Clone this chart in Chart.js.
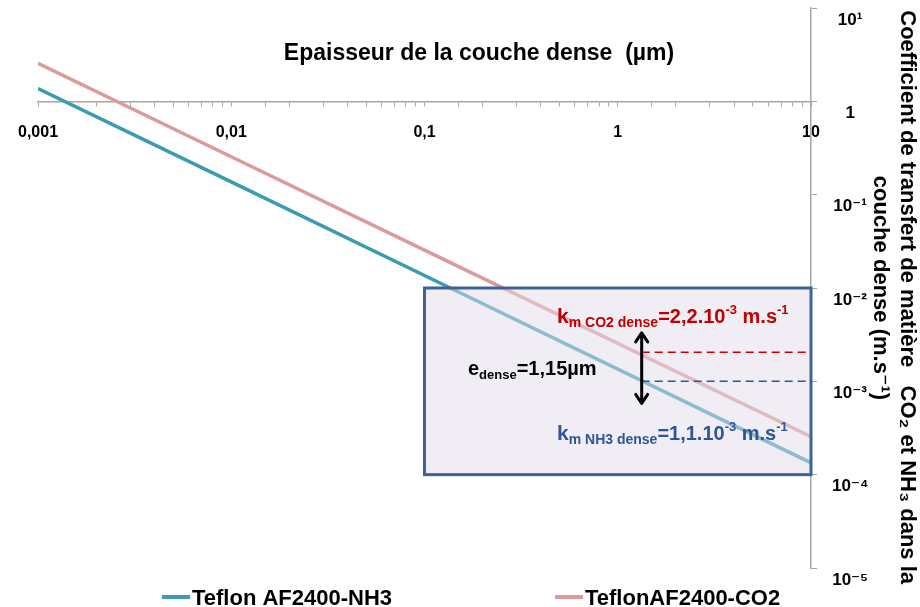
<!DOCTYPE html>
<html>
<head>
<meta charset="utf-8">
<script src="https://cdn.jsdelivr.net/npm/chart.js@4.4.0/dist/chart.umd.min.js"></script>
<style>
  html, body { margin: 0; padding: 0; background: #fff; }
  #wrap { width: 920px; height: 607px; position: relative; }
</style>
</head>
<body>
<div id="wrap"><canvas id="chart"></canvas></div>
<script>
// Data
const thickness = [0.001, 0.01, 0.1, 1, 10];            // µm
const kmNH3 = [1.37, 0.137, 0.0136, 0.00135, 0.000134];  // m/s
const kmCO2 = [2.55, 0.255, 0.0255, 0.00255, 0.000255];  // m/s
const seriesLabels = ['Teflon AF2400-NH3', 'TeflonAF2400-CO2'];

const xTickValues = [0.001, 0.01, 0.1, 1, 10];
const xTickLabels = ['0,001', '0,01', '0,1', '1', '10'];
const yTickValues = [1e-5, 1e-4, 1e-3, 1e-2, 1e-1, 1, 10];
const yTickLabels = ['10⁻⁵', '10⁻⁴', '10⁻³', '10⁻²', '10⁻¹', '1', '10¹'];

// Highlight box and markers (data coordinates)
const boxX = [0.1, 10];
const boxY = [1e-4, 1e-2];
const markE = 1.33;
const markKCO2 = 2.05e-3;
const markKNH3 = 1.0e-3;
const arrowY = [3.3e-3, 5.8e-4];

const FONT = '"Liberation Sans", Arial, "DejaVu Sans", sans-serif';
const NH3_COLOR = '#3A9BB2';
const CO2_COLOR = '#DB9B9A';
const AXIS_COLOR = '#A6A6A6';

function isDecade(v) {
  const l = Math.log10(v);
  return Math.abs(l - Math.round(l)) < 1e-6;
}

function labelFor(values, labels, v) {
  for (let i = 0; i < values.length; i++) {
    if (Math.abs(Math.log10(values[i]) - Math.log10(v)) < 1e-6) return labels[i];
  }
  return '';
}

// draw a run of text pieces with different sizes / offsets
function drawRich(ctx, x, y, parts, color) {
  ctx.fillStyle = color;
  ctx.textBaseline = 'alphabetic';
  ctx.textAlign = 'left';
  parts.forEach(p => {
    ctx.font = `bold ${p[1]}px ${FONT}`;
    ctx.fillText(p[0], x, y + p[2]);
    x += ctx.measureText(p[0]).width;
  });
}

const annotations = {
  id: 'annotations',
  afterDatasetsDraw(chart) {
    const ctx = chart.ctx;
    const xs = chart.scales.x;
    const ys = chart.scales.y;
    ctx.save();

    // translucent box over the curves
    const bx0 = xs.getPixelForValue(boxX[0]);
    const bx1 = xs.getPixelForValue(boxX[1]);
    const by0 = ys.getPixelForValue(boxY[1]);
    const by1 = ys.getPixelForValue(boxY[0]);
    ctx.fillStyle = 'rgba(226, 221, 234, 0.5)';
    ctx.fillRect(bx0, by0, bx1 - bx0, by1 - by0);
    ctx.strokeStyle = '#3E6496';
    ctx.lineWidth = 3;
    ctx.strokeRect(bx0, by0, bx1 - bx0, by1 - by0);

    // dashed levels
    const mx = xs.getPixelForValue(markE);
    ctx.lineWidth = 1.5;
    ctx.setLineDash([8, 5]);
    ctx.strokeStyle = '#D00000';
    let py = ys.getPixelForValue(markKCO2);
    ctx.beginPath(); ctx.moveTo(mx, py); ctx.lineTo(bx1, py); ctx.stroke();
    ctx.strokeStyle = '#2F5597';
    py = ys.getPixelForValue(markKNH3);
    ctx.beginPath(); ctx.moveTo(mx, py); ctx.lineTo(bx1, py); ctx.stroke();
    ctx.setLineDash([]);

    // double arrow
    const a0 = ys.getPixelForValue(arrowY[0]);
    const a1 = ys.getPixelForValue(arrowY[1]);
    ctx.strokeStyle = '#000';
    ctx.lineWidth = 3;
    ctx.lineCap = 'round';
    ctx.lineJoin = 'round';
    ctx.beginPath();
    ctx.moveTo(mx, a0 + 1); ctx.lineTo(mx, a1 - 1);
    ctx.moveTo(mx - 6, a0 + 9); ctx.lineTo(mx, a0); ctx.lineTo(mx + 6, a0 + 9);
    ctx.moveTo(mx - 6, a1 - 9); ctx.lineTo(mx, a1); ctx.lineTo(mx + 6, a1 - 9);
    ctx.stroke();

    // texts
    drawRich(ctx, 557, 323, [['k', 21, 0], ['m CO2 dense', 14, 4], ['=2,2.10', 20, 0], ['-3', 13, -9], [' m.s', 20, 0], ['-1', 13, -9]], '#C00000');
    drawRich(ctx, 557, 440, [['k', 21, 0], ['m NH3 dense', 14, 4], ['=1,1.10', 20, 0], ['-3', 13, -9], [' m.s', 20, 0], ['-1', 13, -9]], '#2E5597');
    drawRich(ctx, 468, 375, [['e', 20, 0], ['dense', 13, 4], ['=1,15µm', 20, 0]], '#000');

    ctx.restore();
  },
  afterDraw(chart) {
    const ctx = chart.ctx;
    ctx.save();
    // x axis title above the axis
    ctx.font = `bold 23px ${FONT}`;
    ctx.fillStyle = '#000';
    ctx.textAlign = 'center';
    ctx.textBaseline = 'alphabetic';
    ctx.fillText('Epaisseur de la couche dense  (µm)', 479, 60);

    // legend
    const legendX = [162, 555];
    chart.data.datasets.forEach((ds, i) => {
      ctx.strokeStyle = ds.borderColor;
      ctx.lineWidth = 4;
      ctx.beginPath();
      ctx.moveTo(legendX[i], 597);
      ctx.lineTo(legendX[i] + 28, 597);
      ctx.stroke();
      ctx.fillStyle = '#000';
      ctx.textAlign = 'left';
      ctx.font = `bold 22px ${FONT}`;
      ctx.fillText(ds.label, legendX[i] + 30, 605);
    });
    ctx.restore();
  }
};

new Chart(document.getElementById('chart'), {
  type: 'line',
  data: {
    datasets: [
      {
        label: seriesLabels[0],
        data: thickness.map((e, i) => ({ x: e, y: kmNH3[i] })),
        borderColor: NH3_COLOR,
        borderWidth: 3.5,
        pointRadius: 0,
        tension: 0
      },
      {
        label: seriesLabels[1],
        data: thickness.map((e, i) => ({ x: e, y: kmCO2[i] })),
        borderColor: CO2_COLOR,
        borderWidth: 3.5,
        pointRadius: 0,
        tension: 0
      }
    ]
  },
  options: {
    responsive: true,
    maintainAspectRatio: false,
    animation: false,
    layout: { padding: { left: 37, top: 8, bottom: 39, right: 0 } },
    plugins: {
      legend: { display: false },
      tooltip: { enabled: false }
    },
    scales: {
      x: {
        type: 'logarithmic',
        position: { y: 1 },
        min: 0.001,
        max: 10,
        border: { display: true, color: AXIS_COLOR, width: 1.5 },
        grid: { drawOnChartArea: false, drawTicks: true, tickLength: 4, color: AXIS_COLOR },
        ticks: {
          autoSkip: false,
          maxRotation: 0,
          padding: 18,
          color: '#000',
          font: { family: FONT, size: 16, weight: 'bold' },
          callback: v => labelFor(xTickValues, xTickLabels, v)
        }
      },
      y: {
        type: 'logarithmic',
        position: 'right',
        min: 1e-5,
        max: 10,
        afterFit: s => { s.width = 109; s.paddingTop = 0; s.paddingBottom = 0; },
        border: { display: true, color: AXIS_COLOR, width: 1.5 },
        grid: {
          drawOnChartArea: false,
          drawTicks: true,
          tickLength: 6,
          color: c => (c.tick && isDecade(c.tick.value)) ? AXIS_COLOR : 'rgba(0,0,0,0)'
        },
        ticks: {
          autoSkip: false,
          padding: 15,
          labelOffset: 12,
          crossAlign: 'center',
          color: '#000',
          font: { family: FONT, size: 17, weight: 'bold' },
          callback: v => labelFor(yTickValues, yTickLabels, v)
        },
        title: {
          display: true,
          text: ['   Coefficient de transfert de matière   CO₂ et NH₃ dans la', 'couche dense (m.s⁻¹)'],
          color: '#000',
          font: { family: FONT, size: 22, weight: 'bold', lineHeight: 1.2 },
          padding: { top: 0, bottom: 2 }
        }
      }
    }
  },
  plugins: [annotations]
});
</script>
</body>
</html>
